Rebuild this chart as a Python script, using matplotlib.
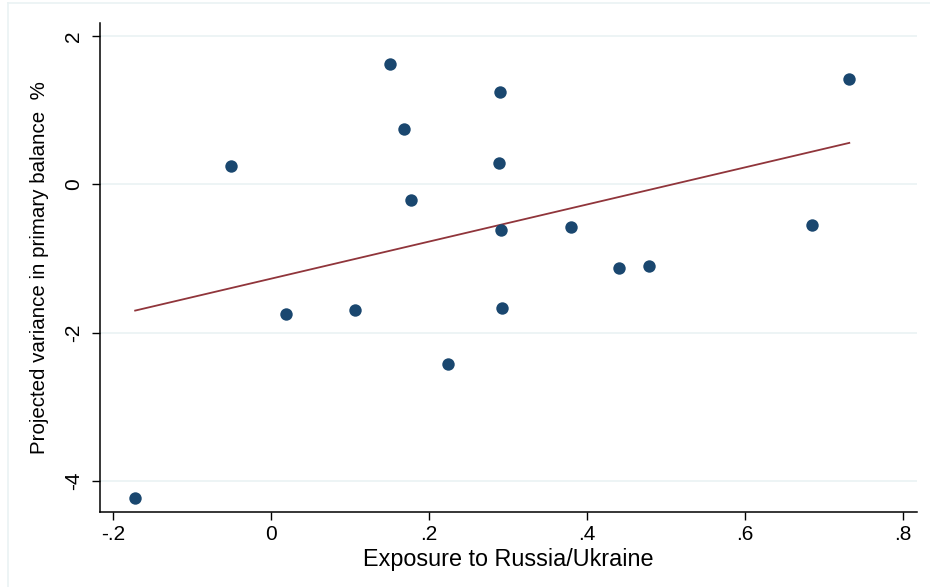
import numpy as np
import matplotlib
matplotlib.use('Agg')
import matplotlib.pyplot as plt
from matplotlib.lines import Line2D

# exposure vs projected variance
exposure = [-0.172, -0.051, 0.019, 0.106, 0.151, 0.168, 0.177, 0.224, 0.290,
            0.289, 0.291, 0.292, 0.380, 0.440, 0.478, 0.685, 0.732]
variance = [-4.226, 0.248, -1.747, -1.693, 1.623, 0.747, -0.210, -2.420, 1.245,
            0.288, -0.615, -1.666, -0.574, -1.127, -1.100, -0.547, 1.420]

xticks = [-0.2, 0, 0.2, 0.4, 0.6, 0.8]
xticklabels = ['-.2', '0', '.2', '.4', '.6', '.8']
yticks = [-4, -2, 0, 2]
yticklabels = ['-4', '-2', '0', '2']

plt.rcParams['font.family'] = ['Liberation Sans', 'DejaVu Sans']

navy = '#1a476f'
maroon = '#90353b'
gridc = '#eaf2f3'

fig = plt.figure(figsize=(9.3, 5.87), dpi=100)
ax = fig.add_axes([100 / 930, (587 - 512) / 587, (917 - 100) / 930, (512 - 23) / 587])

# faint graph-region border (Stata style)
fig.add_artist(Line2D([8 / 930, 1], [1 - 3 / 587, 1 - 3 / 587], color=gridc, lw=1.2,
                      transform=fig.transFigure))
fig.add_artist(Line2D([8 / 930, 8 / 930], [0, 1 - 3 / 587], color=gridc, lw=1.2,
                      transform=fig.transFigure))

ax.scatter(exposure, variance, s=80, color=navy, zorder=3, linewidths=0)

# linear fit
x = np.array(exposure)
b, a = np.polyfit(x, np.array(variance), 1)
xf = np.array([x.min(), x.max()])
ax.plot(xf, a + b * xf, color=maroon, lw=1.3, zorder=2)

ax.set_xlim(-0.2165, 0.8177)
ax.set_ylim(-4.415, 2.175)

ax.set_xticks(xticks)
ax.set_xticklabels(xticklabels, fontsize=15)
ax.set_yticks(yticks)
ax.set_yticklabels(yticklabels, fontsize=15, rotation=90, va='center')

ax.tick_params(direction='out', length=6, width=1, colors='black')
ax.tick_params(axis='y', pad=6)

ax.grid(axis='y', color=gridc, lw=1.2)
ax.set_axisbelow(True)
for s in ['top', 'right']:
    ax.spines[s].set_visible(False)
for s in ['left', 'bottom']:
    ax.spines[s].set_linewidth(1.1)

ax.set_xlabel('Exposure to Russia/Ukraine', fontsize=16.8, labelpad=3)
ax.set_ylabel('Projected variance in primary balance  %', fontsize=14.8, labelpad=11)

fig.savefig('out.png', dpi=100, facecolor='white')
